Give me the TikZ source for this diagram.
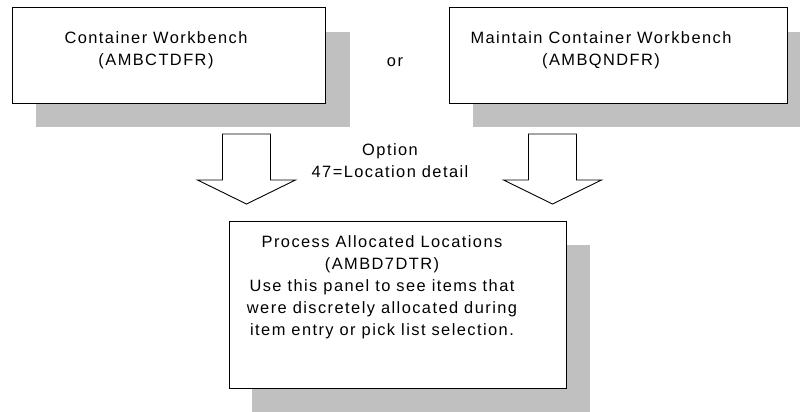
\documentclass[tikz,border=0pt]{standalone}
\usepackage{fontspec}
\setmainfont{Liberation Sans}[LetterSpace=8.8]
\usepackage{tikz}
\usetikzlibrary{positioning}
\definecolor{shadowgray}{HTML}{C0C0C0}

\tikzset{
  panel/.style={draw=black,line width=0.9pt,fill=white,inner sep=0pt},
  panelshadow/.style={fill=shadowgray,draw=none},
  txt/.style={align=center,inner sep=0pt,font=\fontsize{16.4}{22}\selectfont},
  blockarrow/.pic={\draw[line width=0.9pt,fill=white] (-24,0) -- (24,0) -- (24,46) -- (49,46) -- (0,70) -- (-49,46) -- (-24,46) -- cycle;}
}

\begin{document}
\begin{tikzpicture}[x=1pt,y=-1pt]
\useasboundingbox (0,0) rectangle (800,412);
% shadows
\fill[panelshadow] (36,32) rectangle (350,127);
\fill[panelshadow] (473,32) rectangle (811,127);
\fill[panelshadow] (252,245) rectangle (590,412);
% panels
\node[panel,minimum width=313pt,minimum height=96pt] (cwb) at (168.5,55) {};
\node[panel,minimum width=338pt,minimum height=96pt] (mcwb) at (618,55) {};
\node[panel,minimum width=337pt,minimum height=167pt] (pal) at (397.5,304.5) {};
\node[txt] (cwbtext) at (156,50) {Container Workbench\\(AMBCTDFR)};
\node[txt] (mcwbtext) at (601,50) {Maintain Container Workbench\\(AMBQNDFR)};
\node[txt] (paltext) at (382,287) {Process Allocated Locations\\(AMBD7DTR)\\Use this panel to see items that\\were discretely allocated during\\item entry or pick list selection.};
\node[txt] (or) at (395,62) {or};
\node[txt] (option) at (390,161) {Option\\47=Location detail};
% arrows down to the panel
\pic at (246.5,134) {blockarrow};
\pic at (552.5,134) {blockarrow};
\end{tikzpicture}
\end{document}
